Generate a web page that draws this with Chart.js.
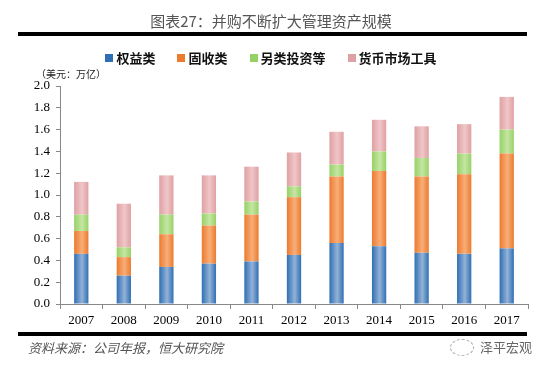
<!DOCTYPE html>
<html>
<head>
<meta charset="utf-8">
<script src="https://cdn.jsdelivr.net/npm/chart.js@4"></script>
<style>
  html,body{margin:0;padding:0;background:#fff;}
  #wrap{position:relative;width:542px;height:369px;overflow:hidden;font-family:"Noto Sans CJK SC",sans-serif;}
  canvas{position:absolute;left:0;top:0;}
  .title{position:absolute;left:0;width:542px;top:10px;text-align:center;font-size:15px;color:#555;}
  .rule{position:absolute;left:18px;width:509px;height:4px;background:#000;}
  .legend{position:absolute;left:0;width:542px;top:48px;text-align:center;font-size:13px;font-weight:bold;color:#111;}
  .legend span{margin:0 11px;white-space:nowrap;}
  .legend i{display:inline-block;width:8px;height:8px;margin-right:3px;vertical-align:1px;}
  .unit{position:absolute;left:36px;top:66px;font-size:10px;color:#222;}
  .src{position:absolute;left:28px;top:338px;font-size:13px;color:#555;font-style:italic;}
  .wm{position:absolute;left:480px;top:337px;font-size:13px;color:#666;}
  .wm b{position:absolute;left:-30px;top:2px;width:22px;height:15px;border:1px dashed #aaa;border-radius:50%;}
</style>
</head>
<body>
<div id="wrap">
  <canvas id="c" width="542" height="369"></canvas>
  <div class="title">图表27：并购不断扩大管理资产规模</div>
  <div class="rule" style="top:32px"></div>
  <div class="legend" id="legend"></div>
  <div class="unit">（美元：万亿）</div>
  <div class="rule" style="top:332px"></div>
  <div class="src">资料来源：公司年报，恒大研究院</div>
  <div class="wm"><b></b>泽平宏观</div>
</div>
<script>
// data (USD trillion)
const years = ['2007','2008','2009','2010','2011','2012','2013','2014','2015','2016','2017'];
const equity = [0.46,0.26,0.34,0.37,0.39,0.45,0.56,0.53,0.47,0.46,0.51];
const fixedIncome = [0.21,0.17,0.30,0.35,0.43,0.53,0.61,0.69,0.70,0.73,0.87];
const alternatives = [0.15,0.09,0.18,0.11,0.12,0.10,0.11,0.18,0.17,0.19,0.22];
const moneyMarket = [0.30,0.40,0.36,0.35,0.32,0.31,0.30,0.29,0.29,0.27,0.30];
const yTicks = [0,0.2,0.4,0.6,0.8,1.0,1.2,1.4,1.6,1.8,2.0];

const seriesNames = ['权益类','固收类','另类投资等','货币市场工具'];
const edgeColors = ['#2f6fb5','#ec7a2f','#96d167','#dfa0a3'];
const midColors = ['#93b2d6','#f8ae78','#c5e6a2','#f0c6c8'];

const catPct = 0.8, barPct = 0.42;

// bar shading: darker edges, lighter middle
function shade(i){
  return (ctx)=>{
    const chart = ctx.chart;
    const area = chart.chartArea;
    if(!area) return edgeColors[i];
    const x = chart.scales.x.getPixelForValue(ctx.dataIndex);
    const w = area.width / years.length * catPct * barPct;
    const g = chart.ctx.createLinearGradient(x - w/2, 0, x + w/2, 0);
    g.addColorStop(0, edgeColors[i]);
    g.addColorStop(0.55, midColors[i]);
    g.addColorStop(1, edgeColors[i]);
    return g;
  };
}

const allSeries = [equity, fixedIncome, alternatives, moneyMarket];
const datasets = allSeries.map((d,i)=>({
  label: seriesNames[i],
  data: d,
  backgroundColor: shade(i),
  borderWidth: 0,
  categoryPercentage: catPct,
  barPercentage: barPct
}));

document.getElementById('legend').innerHTML = seriesNames.map((n,i)=>
  '<span><i style="background:'+edgeColors[i]+'"></i>'+n+'</span>').join('');

new Chart(document.getElementById('c'), {
  type: 'bar',
  data: {labels: years, datasets},
  options: {
    responsive: false,
    animation: false,
    layout: {padding: {left: 0, top: 86, right: 14, bottom: 0}},
    plugins: {legend: {display: false}, tooltip: {enabled: false}},
    scales: {
      x: {
        stacked: true,
        grid: {display: true, drawOnChartArea: false, color: '#888', tickLength: 5, offset: true},
        border: {color: '#888', width: 1},
        ticks: {color: '#000', font: {family: 'Liberation Serif', size: 13}, padding: 4, maxRotation: 0},
        afterFit: s => { s.height = 65; }
      },
      y: {
        stacked: true,
        min: 0, max: 2.0,
        afterBuildTicks: s => { s.ticks = yTicks.map(v=>({value:v})); },
        grid: {display: true, drawOnChartArea: false, color: '#888', tickLength: 4},
        border: {color: '#888', width: 1},
        ticks: {color: '#000', font: {family: 'Liberation Serif', size: 13}, padding: 6,
                callback: v => Number(v).toFixed(1)},
        afterFit: s => { s.width = 60; }
      }
    }
  }
});
</script>
</body>
</html>
